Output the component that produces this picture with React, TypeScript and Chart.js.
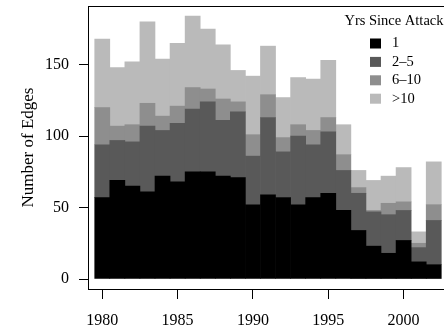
import React, { useEffect, useRef } from "react";
import { Chart, registerables } from "chart.js";

Chart.register(...registerables);

const years = [1980, 1981, 1982, 1983, 1984, 1985, 1986, 1987, 1988, 1989, 1990, 1991, 1992, 1993, 1994, 1995, 1996, 1997, 1998, 1999, 2000, 2001, 2002];
const seriesLabels = ["1", "2\u20135", "6\u201310", ">10"];
const yrs1 = [57, 69, 65, 61, 72, 68, 75, 75, 72, 71, 52, 59, 57, 52, 57, 60, 48, 34, 23, 18, 27, 12, 10];
const yrs2to5 = [37, 28, 31, 46, 32, 41, 44, 49, 39, 46, 34, 54, 32, 48, 37, 43, 28, 26, 24, 27, 21, 10, 31];
const yrs6to10 = [26, 10, 12, 16, 10, 12, 15, 9, 15, 7, 15, 16, 10, 8, 10, 10, 11, 4, 1, 8, 6, 3, 11];
const yrsOver10 = [48, 41, 44, 57, 40, 44, 50, 42, 38, 22, 41, 34, 28, 33, 36, 40, 21, 12, 21, 19, 24, 8, 30];
const xTicks = [1980, 1985, 1990, 1995, 2000];
const yTicks = [0, 50, 100, 150];
const colors = ["#000000", "#595959", "#8e8e8e", "#bababa"];
const legendTitle = "Yrs Since Attack";
const yTitle = "Number of Edges";

const FONT = '"Liberation Serif", "Times New Roman", serif';

const boxPlugin = {
  id: "boxAndLegend",
  afterDraw(chart: any) {
    const { ctx, chartArea } = chart;
    ctx.save();
    ctx.strokeStyle = "#000";
    ctx.lineWidth = 1;
    ctx.strokeRect(chartArea.left - 0.5, chartArea.top + 0.5, chartArea.right - chartArea.left, chartArea.bottom - chartArea.top);
    ctx.fillStyle = "#000";
    ctx.font = `14.5px ${FONT}`;
    ctx.textAlign = "right";
    ctx.textBaseline = "middle";
    ctx.fillText(legendTitle, 443.5, 21.5);
    ctx.textAlign = "left";
    chart.data.datasets.forEach((ds: any, i: number) => {
      const cy = 43.5 + i * 18.4;
      ctx.fillStyle = ds.backgroundColor;
      ctx.fillRect(370, cy - 5, 11, 10);
      ctx.fillStyle = "#000";
      ctx.fillText(ds.label, 392, cy);
    });
    ctx.restore();
  },
};

const zeroPad = (scale: any) => {
  scale.paddingTop = 0;
  scale.paddingBottom = 0;
  scale.paddingLeft = 0;
  scale.paddingRight = 0;
};

export default function App() {
  const ref = useRef<HTMLCanvasElement>(null);
  useEffect(() => {
    if (!ref.current) return;
    const series = [yrs1, yrs2to5, yrs6to10, yrsOver10];
    const chart = new Chart(ref.current, {
      type: "bar",
      data: {
        datasets: series.map((vals, i) => ({
          label: seriesLabels[i],
          data: years.map((yr, j) => ({ x: yr, y: vals[j] })),
          backgroundColor: colors[i],
          borderWidth: 0,
          barPercentage: 1,
          categoryPercentage: 1,
        })),
      },
      options: {
        responsive: false,
        animation: false,
        devicePixelRatio: 1,
        layout: { padding: { top: 6, right: 3, left: 0, bottom: 0 } },
        plugins: { legend: { display: false }, tooltip: { enabled: false } },
        scales: {
          x: {
            type: "linear",
            stacked: true,
            offset: false,
            min: 1979.12,
            max: 2002.88,
            afterBuildTicks: (scale: any) => {
              scale.ticks = xTicks.map((v) => ({ value: v }));
            },
            afterFit: (scale: any) => {
              scale.height = 39;
              zeroPad(scale);
            },
            border: { display: false },
            grid: { offset: false, drawOnChartArea: false, drawTicks: true, tickLength: 10, color: "#000", lineWidth: 1 },
            ticks: { color: "#000", font: { family: FONT, size: 16 }, padding: 12, maxRotation: 0, autoSkip: false, callback: (v: any) => String(v) },
          },
          y: {
            type: "linear",
            stacked: true,
            min: -7,
            max: 191.1,
            afterBuildTicks: (scale: any) => {
              scale.ticks = yTicks.map((v) => ({ value: v }));
            },
            afterFit: (scale: any) => {
              scale.width = 89;
              zeroPad(scale);
            },
            border: { display: false },
            grid: { drawOnChartArea: false, drawTicks: true, tickLength: 10, color: "#000", lineWidth: 1 },
            ticks: { color: "#000", font: { family: FONT, size: 16 }, padding: 10, autoSkip: false, callback: (v: any) => String(v) },
            title: { display: true, text: yTitle, color: "#000", font: { family: FONT, size: 17 }, padding: { top: 18, bottom: 0 } },
          },
        },
      },
      plugins: [boxPlugin],
    } as any);
    return () => chart.destroy();
  }, []);
  return (
    <div style={{ position: "absolute", left: 0, top: 0, width: 444, height: 328, overflow: "hidden" }}>
      <canvas ref={ref} width={450} height={328} style={{ display: "block" }} />
    </div>
  );
}
